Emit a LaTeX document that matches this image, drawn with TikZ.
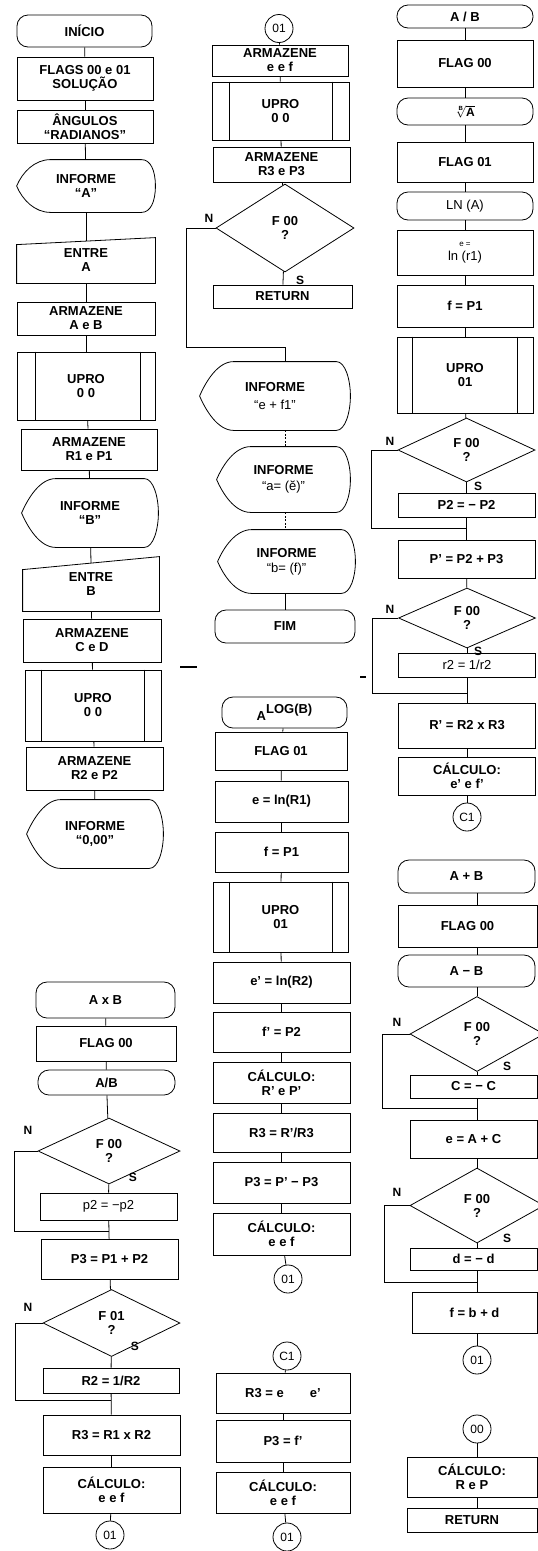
\documentclass[tikz,border=0pt]{standalone}
\usepackage{fontspec}
\setmainfont{Liberation Sans}
\usetikzlibrary{shapes.geometric,calc}
\newcommand\dispshape[1]{%
  \draw (#1.west) .. controls ($(#1.west)+(6,-14)$) and ($(#1.north west)+(18,0)$) .. ($(#1.north west)+(34,0)$)
    -- ($(#1.north east)+(-14,0)$)
    .. controls ($(#1.north east)+(-5,0)$) and ($(#1.east)+(0,-16)$) .. (#1.east)
    .. controls ($(#1.east)+(0,16)$) and ($(#1.south east)+(-5,0)$) .. ($(#1.south east)+(-14,0)$)
    -- ($(#1.south west)+(34,0)$)
    .. controls ($(#1.south west)+(18,0)$) and ($(#1.west)+(6,14)$) .. (#1.west) -- cycle;}
\newcommand\manshape[2]{\draw (#1.south west) -- ($(#1.north west)+(0,#2)$) -- (#1.north east) -- (#1.south east) -- cycle;}
\newcommand\uproshape[3]{\draw ([xshift=#2]#1.north west) -- ([xshift=#2]#1.south west) ([xshift=-#3]#1.north east) -- ([xshift=-#3]#1.south east);}
\newcommand\vl[3]{\draw (#1.south -| #3) -- (#2.north -| #3);}
\begin{document}
\begin{tikzpicture}[x=1pt,y=-1pt,line width=0.8pt,
  every node/.style={font=\fontsize{13}{14}\selectfont\bfseries, align=center, inner sep=1pt},
  bx/.style 2 args={draw, rectangle, minimum width=#1, minimum height=#2},
  term/.style 2 args={draw, rectangle, rounded corners=11pt, minimum width=#1, minimum height=#2},
  sh/.style 2 args={rectangle, minimum width=#1, minimum height=#2},
  dia/.style 2 args={draw, diamond, minimum width=#1, minimum height=#2, inner sep=0pt},
  conn/.style={draw, circle, minimum size=28, inner sep=0pt, font=\fontsize{12}{13}\selectfont},
  lbl/.style={font=\fontsize{12}{13}\selectfont\bfseries},
  rg/.style={font=\fontsize{13}{14}\selectfont},
  dsh/.style={dash pattern=on 2pt off 1.5pt}]
\useasboundingbox (0,0) rectangle (538,1551);
% ---------- left upper ----------
\node[term={135}{32}] (ini) at (84.5,31) {INÍCIO};
\node[bx={136}{43}] (flags) at (85,78.5) {FLAGS 00 e 01\\SOLUÇÃO};
\node[bx={136}{33}] (ang) at (85,126.5) {ÂNGULOS\\“RADIANOS”};
\node[sh={138}{52}] (infA) at (86,186) {INFORME\\“A”}; \dispshape{infA}
\node[sh={138}{45}] (entA) at (86,260.5) {ENTRE\\A}; \manshape{entA}{7}
\node[bx={138}{33}] (armAB) at (86,318.5) {ARMAZENE\\A e B};
\node[bx={138}{68}] (up1) at (86,386) {UPRO\\0 0}; \uproshape{up1}{19}{15}
\node[bx={136}{41}] (armR1) at (89,449.5) {ARMAZENE\\R1 e P1};
\node[sh={136}{68}] (infB) at (90,513) {INFORME\\“B”}; \dispshape{infB}
\node[sh={136}{54}] (entB) at (91,584) {ENTRE\\B}; \manshape{entB}{13}
\node[bx={138}{43}] (armCD) at (92,640.5) {ARMAZENE\\C e D};
\node[bx={136}{71}] (up2) at (93,705.5) {UPRO\\0 0}; \uproshape{up2}{17}{17}
\node[bx={137}{43}] (armR2) at (94.5,768.5) {ARMAZENE\\R2 e P2};
\node[sh={136}{68}] (inf00) at (95,834) {INFORME\\“0,00”}; \dispshape{inf00}
\draw (ini) -- (flags);
\draw (flags) -- (ang);
\draw (ang) -- (infA);
\draw (infA) -- ($(entA.north)+(0,3.5)$);
\draw (entA) -- (armAB);
\draw (armAB) -- (up1);
\draw (up1) -- (armR1);
\draw (armR1) -- (infB);
\draw (infB) -- ($(entB.north)+(0,6.5)$);
\draw (entB) -- (armCD);
\draw (armCD) -- (up2);
\draw (up2) -- (armR2);
\draw (armR2) -- (inf00);
% ---------- left lower ----------
\node[term={139}{36}] (axb) at (105.5,1000) {A x B};
\node[bx={140}{35}] (fl00L) at (106,1043.5) {FLAG 00};
\node[term={137}{25}] (adb) at (106.5,1082.5) {A/B};
\node[dia={142}{66}] (dL1) at (109,1151) {F 00\\?};
\node[bx={137}{27}, rg] (p2) at (108.5,1206.5) {p2 = −p2};
\node[bx={137}{40}] (P3L) at (109.5,1259) {P3 = P1 + P2};
\node[dia={137}{67}] (dL2) at (111.5,1323) {F 01\\?};
\node[bx={136}{25}] (R2L) at (111,1380.5) {R2 = 1/R2};
\node[bx={137}{40}] (R3L) at (111.5,1435) {R3 = R1 x R2};
\node[bx={137}{46}] (calcL) at (111.5,1490) {CÁLCULO:\\e e f};
\node[conn] (c01L) at (110,1535) {01};
\coordinate (jL1) at (109,1231);
\coordinate (jL2) at (111,1400);
\draw (axb) -- (fl00L);
\draw (fl00L) -- (adb);
\draw (adb) -- (dL1);
\draw (dL1) -- (p2);
\draw (p2) -- (P3L);
\draw (P3L) -- (dL2);
\draw (dL2) -- (R2L);
\draw (R2L) -- (R3L);
\draw (R3L) -- (calcL);
\draw (calcL) -- (c01L);
\draw (dL1.west) -- ++(-23,0) |- (jL1);
\draw (dL2.west) -- ++(-27,0) |- (jL2);
\node[lbl] (nL1) at (28,1130) {N};
\node[lbl] (sL1) at (133,1177) {S};
\node[lbl] (nL2) at (28,1307) {N};
\node[lbl] (sL2) at (135,1346) {S};
% ---------- middle upper ----------
\node[conn] (c01M) at (279,28.5) {01};
\node[bx={136}{31}] (armEF) at (280,60.5) {ARMAZENE\\e e f};
\node[bx={137}{58}] (up3) at (280.5,111) {UPRO\\0 0}; \uproshape{up3}{18}{17}
\node[bx={137}{35}] (armR3) at (281.5,164.5) {ARMAZENE\\R3 e P3};
\node[dia={138}{88}] (dM) at (285,228) {F 00\\?};
\node[bx={139}{23}] (retM) at (282.5,296.5) {RETURN};
\node[lbl] (nM) at (209,218) {N};
\node[lbl] (sM) at (300,280) {S};
\coordinate (jM) at (285,347);
\node[sh={150}{68}] (infEF) at (275,396) {INFORME\\[4pt]{\mdseries “e + f1”}}; \dispshape{infEF}
\node[sh={133}{65}] (infA2) at (283.5,479.5) {INFORME\\[2pt]{\mdseries “a= (ĕ)”}}; \dispshape{infA2}
\node[sh={137}{63}] (infB2) at (286.5,561.5) {INFORME\\[1pt]{\mdseries “b= (f)”}}; \dispshape{infB2}
\node[term={140}{33}] (fim) at (285,626.5) {FIM};
\draw (c01M) -- (armEF);
\draw (armEF) -- (up3);
\draw (up3) -- (armR3);
\draw (armR3) -- (dM);
\draw (dM) -- (retM);
\draw (dM.west) -- ++(-29,0) |- (jM) -- (jM |- infEF.north);
\draw[dsh] (infEF.south -| jM) -- (infA2.north -| jM);
\draw[dsh] (infA2.south -| jM) -- (infB2.north -| jM);
\vl{infB2}{fim}{jM}
% ---------- middle lower ----------
\node[term={125}{31}] (alog) at (284.5,712.5) {\raisebox{-3pt}{A}\raisebox{4pt}{LOG(B)}};
\node[bx={132}{38}] (fl01M) at (281,751) {FLAG 01};
\node[bx={133}{41}] (elnM) at (281.5,801.5) {e = ln(R1)};
\node[bx={133}{40}] (fP1M) at (281.5,852) {f = P1};
\node[bx={135}{70}] (up4) at (280.5,917) {UPRO\\01}; \uproshape{up4}{17}{16}
\node[bx={137}{41}] (eln2) at (281.5,982.5) {e’ = ln(R2)};
\node[bx={137}{40}] (fP2) at (281.5,1032) {f’ = P2};
\node[bx={137}{41}] (calcRP) at (281.5,1082.5) {CÁLCULO:\\R’ e P’};
\node[bx={137}{39}] (R3a) at (281.5,1132.5) {R3 = R’/R3};
\node[bx={137}{41}] (P3a) at (281.5,1182.5) {P3 = P’ − P3};
\node[bx={137}{42}] (calcEF) at (281.5,1234) {CÁLCULO:\\e e f};
\node[conn] (c01b) at (288,1279) {01};
\node[conn] (cC1) at (287,1356) {C1};
\node[bx={134}{40}] (R3b) at (283,1393) {R3 = e\hspace{2em}e’};
\node[bx={134}{42}] (P3b) at (283,1441) {P3 = f’};
\node[bx={134}{41}] (calcEF2) at (283,1492.5) {CÁLCULO:\\e e f};
\node[conn] (c01c) at (287,1537) {01};
\draw (alog) -- (fl01M);
\draw (fl01M) -- (elnM);
\draw (elnM) -- (fP1M);
\draw (fP1M) -- (up4);
\draw (up4) -- (eln2);
\draw (eln2) -- (fP2);
\draw (fP2) -- (calcRP);
\draw (calcRP) -- (R3a);
\draw (R3a) -- (P3a);
\draw (P3a) -- (calcEF);
\draw (calcEF) -- (c01b);
\draw (cC1) -- (R3b);
\draw (R3b) -- (P3b);
\draw (P3b) -- (calcEF2);
\draw (calcEF2) -- (c01c);
% ---------- right upper ----------
\node[term={136}{23}] (apbT) at (465,16.5) {A / B};
\node[bx={136}{47}] (fl00R) at (465,63.5) {FLAG 00};
\node[term={136}{27}] (root) at (465,111.5) {\large$\sqrt[\mathbf{B}]{\mathbf{A}}$};
\node[bx={136}{40}] (fl01R) at (465,162) {FLAG 01};
\node[term={136}{28}, rg] (lnA) at (465,206) {LN (A)};
\node[bx={136}{45}, rg] (elnR) at (465,252.5) {{\footnotesize e =}\\ln (r1)};
\node[bx={136}{42}] (fP1R) at (465,306) {f = P1};
\node[bx={136}{76}] (up5) at (465,375) {UPRO\\01}; \uproshape{up5}{16}{16}
\node[dia={137}{64}] (dR1) at (466.5,450) {F 00\\?};
\node[bx={137}{24}] (P2n) at (466.5,505) {P2 = − P2};
\node[bx={137}{38}] (Pp) at (466.5,559) {P’ = P2 + P3};
\node[dia={137}{60}] (dR2) at (467,618) {F 00\\?};
\node[bx={137}{24}, rg] (r2) at (467,665) {r2 = 1/r2};
\node[bx={137}{45}] (Rp) at (467,725.5) {R’ = R2 x R3};
\node[bx={137}{38}] (calcR) at (467,776) {CÁLCULO:\\e’ e f’};
\node[conn] (cC1R) at (467,817) {C1};
\coordinate (jR1) at (466.5,528);
\coordinate (jR2) at (467,693);
\draw (apbT) -- (fl00R);
\draw (fl00R) -- (root);
\draw (root) -- (fl01R);
\draw (fl01R) -- (lnA);
\draw (lnA) -- (elnR);
\draw (elnR) -- (fP1R);
\draw (fP1R) -- (up5);
\draw (up5) -- (dR1);
\draw (dR1) -- (P2n);
\draw (P2n) -- (Pp);
\draw (Pp) -- (dR2);
\draw (dR2) -- (r2);
\draw (r2) -- (Rp);
\draw (Rp) -- (calcR);
\draw (calcR) -- (cC1R);
\draw (dR1.west) -- ++(-26,0) |- (jR1);
\draw (dR2.west) -- ++(-26,0) |- (jR2);
\node[lbl] (nR1) at (390,441) {N};
\node[lbl] (sR1) at (478,486) {S};
\node[lbl] (nR2) at (390,609) {N};
\node[lbl] (sR2) at (478,651) {S};
% ---------- right lower ----------
\coordinate (axR) at (477,0);
\node[term={137}{33}] (apb2) at (466.5,876.5) {A + B};
\node[bx={139}{42}] (fl00R2) at (467.5,926) {FLAG 00};
\node[term={137}{32}] (amb) at (466.5,971) {A − B};
\node[dia={134}{75}] (dR3) at (477,1034) {F 00\\?};
\node[bx={127}{23}] (Cn) at (473.5,1086.5) {C = − C};
\node[bx={127}{38}] (eAC) at (473.5,1139) {e = A + C};
\node[dia={134}{75}] (dR4) at (477,1205.5) {F 00\\?};
\node[bx={127}{22}] (dn) at (473.5,1259) {d = − d};
\node[bx={125}{41}] (fbd) at (474.5,1312.5) {f = b + d};
\node[conn] (c01R) at (477,1360) {01};
\node[conn] (c00R) at (477,1429) {00};
\node[bx={130}{40}] (calcRP2) at (472,1477) {CÁLCULO:\\R e P};
\node[bx={130}{24}] (retR) at (472,1520) {RETURN};
\coordinate (jR3) at (477,1108);
\coordinate (jR4) at (477,1282);
\vl{apb2}{fl00R2}{axR}
\vl{fl00R2}{amb}{axR}
\vl{amb}{dR3}{axR}
\vl{dR3}{Cn}{axR}
\vl{Cn}{eAC}{axR}
\vl{eAC}{dR4}{axR}
\vl{dR4}{dn}{axR}
\vl{dn}{fbd}{axR}
\vl{fbd}{c01R}{axR}
\vl{c00R}{calcRP2}{axR}
\vl{calcRP2}{retR}{axR}
\draw (dR3.west) -- ++(-27,0) |- (jR3);
\draw (dR4.west) -- ++(-25,0) |- (jR4);
\node[lbl] (nR3) at (397,1022) {N};
\node[lbl] (sR3) at (507,1066) {S};
\node[lbl] (nR4) at (397,1192) {N};
\node[lbl] (sR4) at (507,1238) {S};
% ---------- stray marks ----------
\draw[line width=2pt] (180,667) -- (197,667);
\draw[line width=1.5pt] (360,677) -- (366,677);
\end{tikzpicture}
\end{document}
